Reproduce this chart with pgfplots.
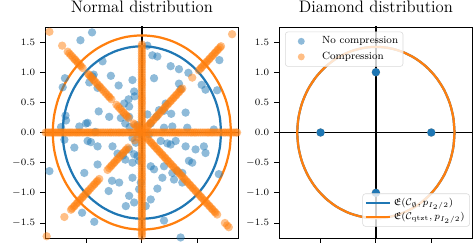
\documentclass[border=0pt]{standalone}
\usepackage{pgfplots}
\usepackage{pgfplotstable}
\usepackage{amsfonts,amssymb}
\pgfplotsset{compat=1.18}
\definecolor{mblue}{HTML}{1F77B4}
\definecolor{morange}{HTML}{FF7F0E}
\pgfdeclareplotmark{fdot}{\pgfpathcircle{\pgfpointorigin}{\pgfplotmarksize}\pgfusepathqfill}

\pgfplotstableread{
x y
1.0000 0.0000
0.9848 0.1736
0.9397 0.3420
0.8660 0.5000
0.7660 0.6428
0.6428 0.7660
0.5000 0.8660
0.3420 0.9397
0.1736 0.9848
0.0000 1.0000
-0.1736 0.9848
-0.3420 0.9397
-0.5000 0.8660
-0.6428 0.7660
-0.7660 0.6428
-0.8660 0.5000
-0.9397 0.3420
-0.9848 0.1736
-1.0000 0.0000
-0.9848 -0.1736
-0.9397 -0.3420
-0.8660 -0.5000
-0.7660 -0.6428
-0.6428 -0.7660
-0.5000 -0.8660
-0.3420 -0.9397
-0.1736 -0.9848
0.0000 -1.0000
0.1736 -0.9848
0.3420 -0.9397
0.5000 -0.8660
0.6428 -0.7660
0.7660 -0.6428
0.8660 -0.5000
0.9397 -0.3420
0.9848 -0.1736
1.0000 0.0000
}\unitcircle

\pgfplotsset{
  panel/.style={
    width=139.5pt, height=152pt, scale only axis,
    xmin=-1.75, xmax=1.75, ymin=-1.75, ymax=1.75,
    xtick={-1,0,1}, xticklabels={},
    ytick={-1.5,-1,-0.5,0,0.5,1,1.5},
    y tick label style={/pgf/number format/.cd, fixed, fixed zerofill, precision=1, /tikz/.cd},
    tick align=outside, tick pos=left, major tick length=3.5pt,
    tick style={black, line width=0.6pt},
    axis line style={black, line width=0.6pt},
    tick label style={font=\fontsize{7.2}{8}\selectfont},
    title style={font=\fontsize{12}{14}\selectfont, at={(0.5,1)}, anchor=base, yshift=4.5pt},
  },
  bluedot/.style={only marks, mark=fdot, mark size=3pt, color=mblue, mark options={fill=mblue, fill opacity=0.5}},
  orangedot/.style={only marks, mark=fdot, mark size=3pt, color=morange, mark options={fill=morange, fill opacity=0.5}},
  zeroline/.style={black, line width=1pt, forget plot},
}

\begin{document}
\begin{tikzpicture}
%================ LEFT PANEL =================
\begin{axis}[panel, at={(0,0)}, anchor=south west, title={Normal distribution}]
\addplot[zeroline] coordinates {(-2,0) (2,0)};
\addplot[zeroline] coordinates {(0,-2) (0,2)};
% no compression (blue)
\addplot[bluedot] coordinates {
(-0.90,1.66)(-1.11,1.53)(-0.71,1.18)(-1.39,0.90)(-0.87,0.96)(-0.56,0.94)(-0.17,0.87)(-1.43,0.75)
(-0.95,0.83)(-0.80,0.74)(-0.14,0.68)(-0.42,0.78)(-0.24,0.55)(-0.13,0.60)(-0.23,0.43)(-0.78,0.35)
(-0.59,0.26)(-1.38,0.28)(-1.37,0.20)(-0.98,0.16)(-1.13,0.10)(-1.46,0.09)(-0.38,0.24)(-0.30,0.15)
(-0.22,0.09)(-0.23,0.26)(-0.08,0.12)(-0.84,0.01)(-0.32,0.48)(-0.89,0.93)(-1.01,0.15)
(0.10,1.44)(0.19,1.28)(0.28,1.26)(1.40,1.20)(0.52,1.10)(0.67,1.05)(0.84,0.99)(0.22,0.90)
(0.67,0.81)(1.08,0.79)(1.15,0.71)(1.36,0.70)(0.70,0.72)(0.43,0.48)(0.31,0.37)(0.40,0.36)
(0.53,0.31)(0.79,0.33)(0.26,0.26)(0.16,0.15)(0.40,0.08)(0.55,0.10)(0.82,0.08)(1.30,0.05)(0.10,0.30)
(0.13,-0.03)(0.34,-0.14)(0.52,-0.20)(0.61,-0.14)(0.79,-0.23)(0.97,-0.28)(1.12,-0.23)(1.15,-0.34)
(0.85,-0.47)(0.91,-0.50)(0.16,-0.56)(0.22,-0.61)(0.40,-0.56)(0.55,-0.67)(0.64,-0.64)(0.73,-0.67)
(0.37,-0.75)(0.58,-0.78)(0.73,-0.83)(1.39,-0.69)(0.28,-0.93)(0.07,-1.22)(0.40,-1.46)(0.70,-1.74)
(0.16,-1.11)(0.46,-0.18)
(-0.98,-0.14)(-0.80,-0.23)(-0.53,-0.23)(-0.23,-0.28)(-0.14,-0.36)(-0.17,-0.50)(-0.05,-0.47)
(-1.22,-0.25)(-1.40,-0.12)(-1.67,-0.64)(-1.04,-0.67)(-0.80,-0.53)(-0.41,-0.83)(-0.17,-0.75)
(-0.02,-0.83)(-0.05,-0.94)(-0.23,-1.05)(-0.14,-1.16)(-0.54,-0.80)(-0.60,-0.97)(-0.29,-1.22)
(-1.08,-1.33)(-0.86,-1.48)(-0.44,-0.35)(-0.34,-0.38)(-0.30,-0.45)(-0.08,-0.39)(-0.11,-0.17)
(-0.17,-0.09)(-0.05,-0.03)(-0.92,-0.16)
};
% compression (orange)
\addplot[orangedot] coordinates {
(-1.74,0)(-1.68,0)(-1.62,0)(-1.56,0)(-1.50,0)(-1.44,0)(-1.38,0)(-1.31,0)(-1.25,0)(-1.18,0)
(-1.12,0)(-1.05,0)(-0.98,0)(-0.92,0)(-0.85,0)(-0.78,0)(-0.70,0)(-0.62,0)(-0.55,0)(-0.47,0)
(-0.40,0)(-0.33,0)(-0.25,0)(-0.18,0)(-0.10,0)(-0.04,0)(0.05,0)(0.12,0)(0.20,0)(0.27,0)
(0.35,0)(0.42,0)(0.50,0)(0.58,0)(0.65,0)(0.72,0)(0.80,0)(0.88,0)(0.95,0)(1.02,0)
(1.10,0)(1.18,0)(1.25,0)(1.32,0)(1.40,0)(1.48,0)(1.55,0)(1.62,0)(1.70,0)
(-1.71,0)(-1.65,0)(-1.59,0)(-1.53,0)(-1.47,0)(-1.41,0)(-1.34,0)(-1.28,0)(-1.21,0)(-1.15,0)
(-1.08,0)(-1.01,0)(-0.95,0)(-0.88,0)(-0.81,0)(-0.74,0)(-0.66,0)(-0.58,0)(-0.51,0)(-0.43,0)
(-0.36,0)(-0.29,0)(-0.21,0)(-0.14,0)(-0.07,0)(0.01,0)(0.08,0)(0.16,0)(0.23,0)(0.31,0)
(0.38,0)(0.46,0)(0.54,0)(0.61,0)(0.68,0)(0.76,0)(0.84,0)(0.91,0)(0.98,0)(1.06,0)
(1.14,0)(1.21,0)(1.28,0)(1.36,0)(1.44,0)(1.51,0)(1.58,0)(1.66,0)(1.72,0)
(0,1.46)(0,1.39)(0,1.31)(0,1.23)(0,1.16)(0,1.08)(0,1.00)(0,0.92)(0,0.85)(0,0.78)
(0,0.70)(0,0.62)(0,0.55)(0,0.48)(0,0.40)(0,0.32)(0,0.25)(0,0.18)(0,0.10)(0,0.03)
(0,-0.08)(0,-0.15)(0,-0.22)(0,-0.30)(0,-0.38)(0,-0.45)(0,-0.52)(0,-0.60)(0,-0.68)(0,-0.75)
(0,-0.82)(0,-0.90)(0,-0.98)(0,-1.05)(0,-1.12)(0,-1.20)(0,-1.28)(0,-1.35)(0,-1.42)(0,-1.50)
(0,-1.58)(0,-1.65)(0,-1.72)
(0,1.43)(0,1.35)(0,1.27)(0,1.19)(0,1.12)(0,1.04)(0,0.96)(0,0.88)(0,0.81)(0,0.74)
(0,0.66)(0,0.58)(0,0.51)(0,0.44)(0,0.36)(0,0.28)(0,0.21)(0,0.14)(0,0.06)(0,-0.03)
(0,-0.11)(0,-0.18)(0,-0.26)(0,-0.34)(0,-0.41)(0,-0.48)(0,-0.56)(0,-0.64)(0,-0.71)(0,-0.78)
(0,-0.86)(0,-0.94)(0,-1.01)(0,-1.08)(0,-1.16)(0,-1.24)(0,-1.31)(0,-1.38)(0,-1.46)(0,-1.54)
(0,-1.61)(0,-1.68)
(0.07,0.07)(0.12,0.12)(0.17,0.17)(0.22,0.22)(0.28,0.28)(0.33,0.33)(0.38,0.38)(0.43,0.43)
(0.48,0.48)(0.53,0.53)(0.58,0.58)(0.63,0.63)(0.68,0.68)(0.73,0.73)(0.91,0.91)(1.03,1.03)
(1.08,1.08)(1.13,1.13)(1.18,1.18)(1.23,1.23)(1.28,1.28)(1.33,1.33)(1.38,1.38)(1.43,1.43)(1.63,1.63)
(0.10,0.10)(0.15,0.15)(0.20,0.20)(0.25,0.25)(0.30,0.30)(0.36,0.36)(0.41,0.41)(0.46,0.46)
(0.51,0.51)(0.56,0.56)(0.61,0.61)(0.66,0.66)(0.71,0.71)(1.06,1.06)(1.11,1.11)(1.16,1.16)
(1.21,1.21)(1.26,1.26)(1.31,1.31)(1.36,1.36)(1.41,1.41)
(-0.05,0.05)(-0.10,0.10)(-0.15,0.15)(-0.24,0.24)(-0.29,0.29)(-0.34,0.34)(-0.40,0.40)(-0.46,0.46)
(-0.55,0.55)(-0.60,0.60)(-0.66,0.66)(-0.72,0.72)(-0.77,0.77)(-0.83,0.83)(-0.88,0.88)(-0.93,0.93)
(-0.97,0.97)(-1.07,1.07)(-1.12,1.12)(-1.17,1.17)(-1.22,1.22)(-1.28,1.28)(-1.34,1.34)(-1.44,1.44)(-1.67,1.67)
(-0.08,0.08)(-0.13,0.13)(-0.27,0.27)(-0.32,0.32)(-0.37,0.37)(-0.43,0.43)(-0.58,0.58)(-0.63,0.63)
(-0.69,0.69)(-0.75,0.75)(-0.80,0.80)(-0.86,0.86)(-0.91,0.91)(-0.95,0.95)(-1.10,1.10)(-1.15,1.15)
(-1.20,1.20)(-1.25,1.25)(-1.31,1.31)
(-0.08,-0.08)(-0.13,-0.13)(-0.25,-0.25)(-0.30,-0.30)(-0.35,-0.35)(-0.41,-0.41)(-0.46,-0.46)(-0.51,-0.51)
(-0.56,-0.56)(-0.62,-0.62)(-0.77,-0.77)(-0.82,-0.82)(-0.87,-0.87)(-0.93,-0.93)(-0.98,-0.98)(-1.03,-1.03)
(-1.08,-1.08)(-1.13,-1.13)(-1.18,-1.18)(-1.23,-1.23)(-1.28,-1.28)(-1.40,-1.40)(-1.72,-1.72)
(-0.28,-0.28)(-0.33,-0.33)(-0.38,-0.38)(-0.44,-0.44)(-0.49,-0.49)(-0.54,-0.54)(-0.59,-0.59)(-0.80,-0.80)
(-0.85,-0.85)(-0.90,-0.90)(-0.96,-0.96)(-1.01,-1.01)(-1.06,-1.06)(-1.11,-1.11)(-1.16,-1.16)(-1.21,-1.21)(-1.26,-1.26)
(0.07,-0.07)(0.13,-0.13)(0.18,-0.18)(0.23,-0.23)(0.28,-0.28)(0.33,-0.33)(0.38,-0.38)(0.43,-0.43)
(0.48,-0.48)(0.53,-0.53)(0.58,-0.58)(0.63,-0.63)(0.68,-0.68)(0.73,-0.73)(0.78,-0.78)(0.83,-0.83)
(0.88,-0.88)(0.93,-0.93)(0.98,-0.98)(1.03,-1.03)(1.08,-1.08)(1.13,-1.13)(1.18,-1.18)(1.23,-1.23)
(1.28,-1.28)(1.33,-1.33)(1.36,-1.36)(1.50,-1.50)(1.54,-1.54)(1.57,-1.57)
(0.10,-0.10)(0.16,-0.16)(0.21,-0.21)(0.26,-0.26)(0.31,-0.31)(0.36,-0.36)(0.41,-0.41)(0.46,-0.46)
(0.51,-0.51)(0.56,-0.56)(0.61,-0.61)(0.66,-0.66)(0.71,-0.71)(0.76,-0.76)(0.81,-0.81)(0.86,-0.86)
(0.91,-0.91)(0.96,-0.96)(1.01,-1.01)(1.06,-1.06)(1.11,-1.11)(1.16,-1.16)(1.21,-1.21)(1.26,-1.26)(1.31,-1.31)
};
\addplot[mblue, line width=1.6pt, smooth] table[x expr=1.43*\thisrow{x}, y expr=1.43*\thisrow{y}] {\unitcircle};
\addplot[morange, line width=1.6pt, smooth] table[x expr=1.61*\thisrow{x}, y expr=1.61*\thisrow{y}] {\unitcircle};
\end{axis}

%================ RIGHT PANEL =================
\begin{axis}[panel, at={(168.5pt,0)}, anchor=south west, title={Diamond distribution},
  legend style={at={(0.985,0.054)}, anchor=south east, draw=black!15, rounded corners=2pt,
    fill=white, fill opacity=0.8, text opacity=1, inner sep=1.5pt,
    font=\fontsize{7.3}{8.6}\selectfont, cells={anchor=west}, row sep=-1pt},
  legend image post style={line width=1.6pt}]
\addplot[zeroline] coordinates {(-2,0) (2,0)};
\addplot[zeroline] coordinates {(0,-2) (0,2)};
\addplot[orangedot, forget plot] coordinates {(1,0)(0,1)(-1,0)(0,-1)};
\addplot[only marks, mark=fdot, mark size=3pt, color=mblue, mark options={fill=mblue}, forget plot]
  coordinates {(1,0)(0,1)(-1,0)(0,-1)};
\addplot[mblue, line width=1.6pt, smooth] table[x expr=1.42*\thisrow{x}, y expr=1.42*\thisrow{y}] {\unitcircle};
\addlegendentry{$\mathfrak{E}(\mathcal{C}_{\emptyset}, p_{I_2/2})$}
\addplot[morange, line width=1.6pt, smooth] table[x expr=1.42*\thisrow{x}, y expr=1.42*\thisrow{y}] {\unitcircle};
\addlegendentry{$\mathfrak{E}(\mathcal{C}_{\mathrm{qtzt}}, p_{I_2/2})$}
\end{axis}

\begin{axis}[panel, at={(168.5pt,0)}, anchor=south west, hide axis,
  legend style={at={(0.031,0.978)}, anchor=north west, draw=black!15, rounded corners=2pt,
    fill=white, fill opacity=0.8, text opacity=1, inner sep=1.5pt,
    font=\fontsize{7.5}{8.8}\selectfont, cells={anchor=west}, row sep=0.5pt}]
\addlegendimage{legend image code/.code={\path[draw=none, fill=mblue, fill opacity=0.5] (10pt,0) circle (2.5pt); \path[draw=none, fill=none] (0,-3pt) rectangle (23pt,3pt);}}
\addlegendentry{No compression}
\addlegendimage{legend image code/.code={\path[draw=none, fill=morange, fill opacity=0.5] (10pt,0) circle (2.5pt); \path[draw=none, fill=none] (0,-3pt) rectangle (23pt,3pt);}}
\addlegendentry{Compression}
\end{axis}

\pgfresetboundingbox
\useasboundingbox (-32.4pt,-3.6pt) rectangle (309.6pt,171.4pt);
\end{tikzpicture}
\end{document}
